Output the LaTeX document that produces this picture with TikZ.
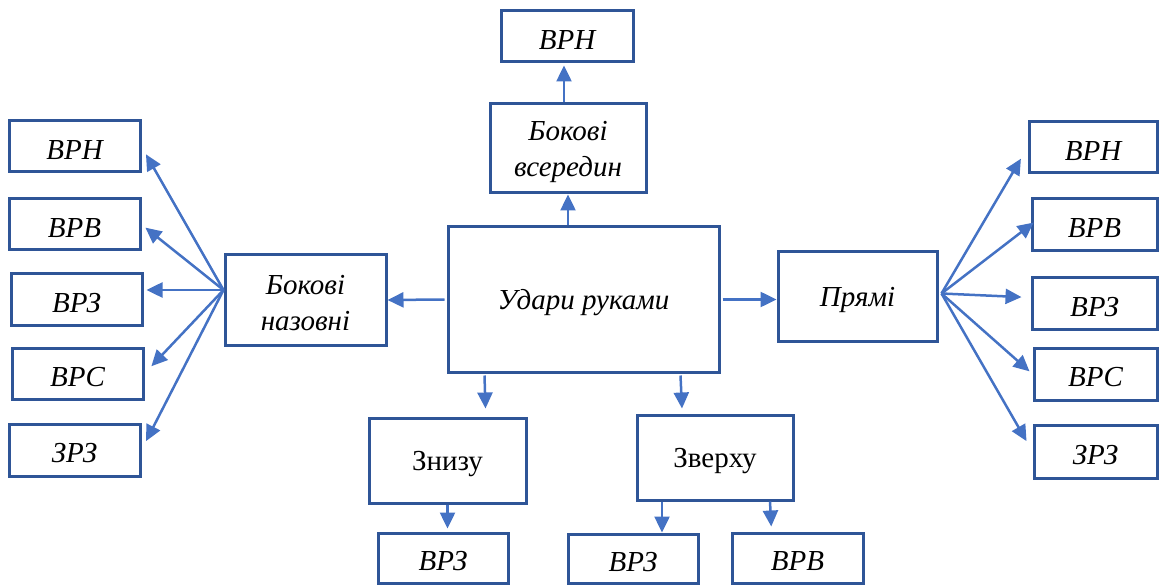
\documentclass[tikz,border=0pt]{standalone}
\usepackage{fontspec}
\setmainfont{Liberation Serif}
\usetikzlibrary{arrows.meta,calc}
\definecolor{boxc}{HTML}{2F5597}
\definecolor{arrc}{HTML}{4472C4}
\tikzset{
  bx/.style={draw=boxc, line width=3pt, rectangle, inner sep=0pt},
  txi/.style={inner sep=0pt, align=center, font=\fontsize{29}{36}\selectfont\itshape},
  txu/.style={inner sep=0pt, align=center, font=\fontsize{29}{36}\selectfont},
  arr/.style={draw=arrc, line width=2.5pt, -{Triangle[length=16pt,width=15pt]}},
}
\newcommand{\bxat}[7]{% name, x1,y1,x2,y2, text style, text
  \node[bx, minimum width={(#4)-(#2)}, minimum height={(#5)-(#3)}] (#1) at ({((#2)+(#4))/2},{((#3)+(#5))/2}) {};
  \node[#6] (#1t) at ($(#1.center)+(0,3.5)$) {#7};}
\begin{document}
\begin{tikzpicture}[x=1pt,y=-1pt]
\useasboundingbox (0,0) rectangle (1159,585);
% main
\bxat{main}{448}{227}{719}{372}{txi}{Удари руками}
% left
\bxat{bn}{225}{255}{386}{345}{txi}{Бокові\\назовні}
\bxat{l1}{9}{121}{140}{172}{txi}{ВРН}
\bxat{l2}{9}{199}{140}{250}{txi}{ВРВ}
\bxat{l3}{11}{274}{142}{325}{txi}{ВРЗ}
\bxat{l4}{12}{348}{143}{399}{txi}{ВРС}
\bxat{l5}{9}{424}{140}{476}{txi}{ЗРЗ}
% top
\bxat{bv}{490}{104}{646}{193}{txi}{Бокові\\всередин}
\bxat{t1}{501}{11}{633}{62}{txi}{ВРН}
% right
\bxat{pr}{778}{252}{937}{341}{txi}{Прямі}
\bxat{r1}{1029}{122}{1157}{173}{txi}{ВРН}
\bxat{r2}{1032}{199}{1157}{251}{txi}{ВРВ}
\bxat{r3}{1032}{278}{1157}{329}{txi}{ВРЗ}
\bxat{r4}{1034}{348}{1157}{400}{txi}{ВРС}
\bxat{r5}{1034}{425}{1157}{478}{txi}{ЗРЗ}
% bottom
\bxat{zn}{369}{418}{526}{503}{txu}{Знизу}
\bxat{zv}{637}{415}{793}{500}{txu}{Зверху}
\bxat{b1}{378}{533}{508}{583}{txi}{ВРЗ}
\bxat{b2}{568}{534}{698}{583}{txi}{ВРЗ}
\bxat{b3}{732}{533}{863}{583}{txi}{ВРВ}

% arrows
\coordinate (bo) at ($(bn.west)+(0,-10)$);
\draw[arr, shorten >=9pt] (bo) -- (l1.east);
\draw[arr, shorten >=5pt] (bo) -- (l2.east);
\draw[arr, shorten >=3pt] (bo) -- (bo -| l3.east);
\draw[arr, shorten >=10pt] (bo) -- (l4.east);
\draw[arr, shorten >=10pt] (bo) -- (l5.east);

\coordinate (po) at ($(pr.east)+(3,-3)$);
\draw[arr, shorten >=13pt] (po) -- (r1.west);
\draw[arr, shorten >=-4pt] (po) -- (r2.west);
\coordinate (r3t) at ($(r3.west)+(0,-6)$);
\draw[arr, shorten >=9pt] (po) -- (r3t);
\draw[arr, shorten >=4pt] (po) -- (r4.west);
\draw[arr, shorten >=12pt] (po) -- (r5.west);

\draw[arr] ($(main.west)+(-2,0)$) -- (bn.east);
\draw[arr] (bv.south |- main.north) -- (bv.south);
\coordinate (ta) at ($(t1.south)+(-3,0)$);
\draw[arr, shorten >=2pt] (ta |- bv.north) -- (ta);
\draw[arr] ($(main.east)+(2,0)$) -- (main.east -| pr.west);
\draw[arr] ($(main.south)+(-99,2)$) -- ($(zn.north)+(38,-8)$);
\draw[arr] ($(main.south)+(97,2)$) -- ($(zv.north)+(-33,-5)$);
\draw[arr, shorten >=3pt] (zn.south) -- (zn.south |- b1.north);
\draw[arr] ($(zv.south)+(-53,0)$) -- ($(b2.north)+(29,0)$);
\draw[arr, shorten >=5pt] ($(zv.south)+(55,0)$) -- ($(b3.north)+(-26,0)$);
\end{tikzpicture}
\end{document}
